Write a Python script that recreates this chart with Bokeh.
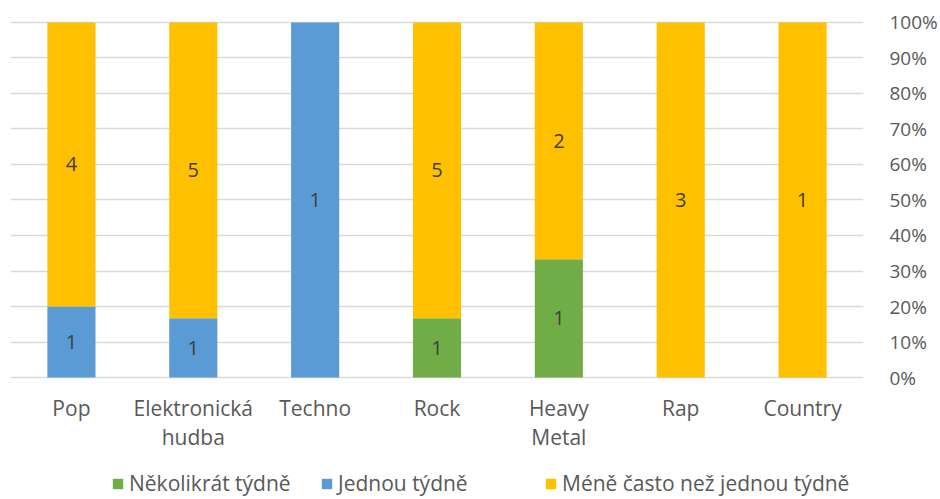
import pandas as pd
from bokeh.plotting import figure
from bokeh.models import (ColumnDataSource, FactorRange, Range1d, FixedTicker,
                          NumeralTickFormatter, Legend, LegendItem)
from bokeh.core.properties import value
from bokeh.embed import file_html
from bokeh.resources import INLINE

# ---- data ----
categories = ["Pop", "Elektronická hudba", "Techno", "Rock", "Heavy Metal", "Rap", "Country"]
category_labels = ["Pop", "Elektronická\nhudba", "Techno", "Rock", "Heavy\nMetal", "Rap", "Country"]
series_names = ["Několikrát týdně", "Jednou týdně", "Méně často než jednou týdně"]
nekolikrat_tydne = [0, 0, 0, 1, 1, 0, 0]
jednou_tydne = [1, 1, 1, 0, 0, 0, 0]
mene_casto = [4, 5, 0, 5, 2, 3, 1]
series_colors = ["#70AD47", "#5B9BD5", "#FFC000"]
y_ticks = [0, 0.1, 0.2, 0.3, 0.4, 0.5, 0.6, 0.7, 0.8, 0.9, 1.0]

FONT = "Open Sans"
TEXT_COLOR = "#595959"

df = pd.DataFrame({"cat": categories, "label": category_labels,
                   "s0": nekolikrat_tydne, "s1": jednou_tydne, "s2": mene_casto})
total = df[["s0", "s1", "s2"]].sum(axis=1)

p = figure(x_range=FactorRange(*categories, range_padding=0),
           y_range=Range1d(-0.34366, 1.06197),
           width=940, height=499, output_backend="svg", toolbar_location=None,
           min_border_left=10, min_border_right=0, min_border_top=0, min_border_bottom=0,
           x_axis_location=None, y_axis_location="right", outline_line_color=None,
           background_fill_color="white", border_fill_color="white")

ax = p.yaxis[0]
ax.ticker = FixedTicker(ticks=y_ticks)
ax.formatter = NumeralTickFormatter(format="0%")
ax.axis_line_color = None
ax.major_tick_line_color = None
ax.minor_tick_line_color = None
ax.major_label_standoff = 20
ax.major_label_text_font = FONT
ax.major_label_text_font_size = "19px"
ax.major_label_text_color = TEXT_COLOR

p.xgrid.visible = False
p.ygrid.ticker = FixedTicker(ticks=y_ticks)
p.ygrid.grid_line_color = "#d9d9d9"
p.ygrid.grid_line_width = 1.3

renderers = []
bottom = pd.Series([0.0] * len(categories))
for col, color in zip(["s0", "s1", "s2"], series_colors):
    frac = df[col] / total
    top = bottom + frac
    src = ColumnDataSource(dict(cat=categories, bottom=bottom.tolist(), top=top.tolist()))
    r = p.vbar(x="cat", bottom="bottom", top="top", width=0.395, source=src,
               fill_color=color, line_color=None)
    renderers.append(r)
    mask = df[col] > 0
    lab_src = ColumnDataSource(dict(
        cat=df.loc[mask, "cat"].tolist(),
        mid=((bottom + top) / 2)[mask].tolist(),
        txt=df.loc[mask, col].astype(str).tolist()))
    p.text(x="cat", y="mid", text="txt", source=lab_src, text_align="center",
           text_baseline="middle", text_font=value(FONT), text_font_size="20px",
           text_color="#404040")
    bottom = top

# category labels below baseline
cat_src = ColumnDataSource(dict(cat=categories, y=[0] * len(categories), txt=category_labels))
p.text(x="cat", y="y", text="txt", source=cat_src, y_offset=16, text_align="center",
       text_baseline="top", text_font=value(FONT), text_font_size="21px",
       text_color=TEXT_COLOR, text_line_height=1.05)

# legend: one entry per series, placed along the bottom
legend_x = [101, 310, 534]
for name, r, lx in zip(series_names, renderers, legend_x):
    leg = Legend(items=[LegendItem(label=name, renderers=[r])], location=(lx, 2),
                 orientation="horizontal", background_fill_alpha=0, border_line_color=None,
                 padding=0, margin=0, glyph_width=13, glyph_height=13, label_standoff=5,
                 label_text_font=FONT, label_text_font_size="21px",
                 label_text_color=TEXT_COLOR, label_height=20, spacing=0)
    p.add_layout(leg)

open("out.html", "w").write(file_html(p, INLINE))
